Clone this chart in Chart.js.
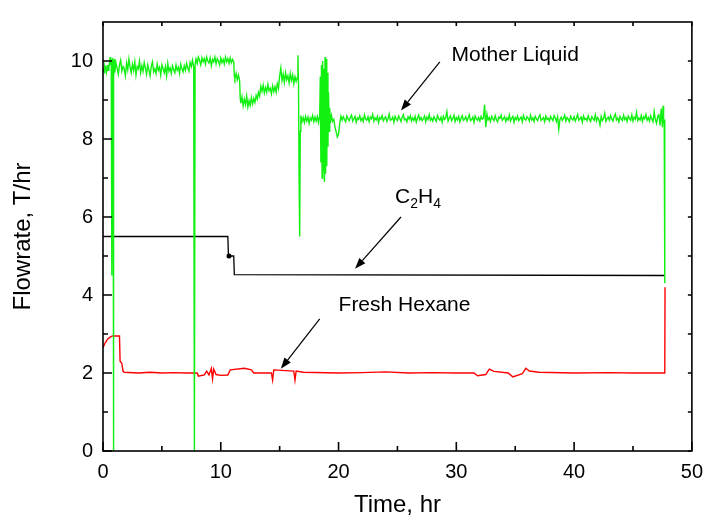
<!DOCTYPE html>
<html>
<head>
<meta charset="utf-8">
<script src="https://cdn.jsdelivr.net/npm/chart.js@4.4.1/dist/chart.umd.min.js"></script>
<style>
  html, body { margin: 0; padding: 0; background: #fff; }
  #wrap { width: 712px; height: 528px; }
</style>
</head>
<body>
<div id="wrap"><canvas id="flow" width="712" height="528"></canvas></div>
<script>
// ─── DATA ─────────────────────────────────────────────────
// [time (hr), flowrate (T/hr)]
const motherLiquid = [
    [0.00, 9.75], [0.05, 9.82], [0.10, 9.70], [0.15, 9.85], [0.20, 9.78], [0.25, 9.88], [0.30, 9.72],
    [0.35, 9.80], [0.40, 9.90], [0.45, 9.76], [0.50, 9.84], [0.55, 9.95], [0.60, 10.10], [0.65, 9.90],
    [0.70, 10.05], [0.74, 9.60], [0.76, 4.50], [0.78, 9.50], [0.82, 10.08], [0.86, 9.70], [0.88, 0.00],
    [0.90, 0.00], [0.92, 9.60], [0.96, 10.05],
    [1.0, 9.70], [1.1, 9.95], [1.2, 9.82], [1.3, 9.66], [1.4, 9.90], [1.5, 10.02], [1.6, 9.74], [1.7, 9.86], [1.8, 9.80], [1.9, 9.62],
    [2.0, 9.95], [2.1, 9.78], [2.2, 10.05], [2.3, 9.84], [2.4, 9.70], [2.5, 9.92], [2.6, 9.76], [2.7, 9.98], [2.8, 9.64], [2.9, 9.86],
    [3.0, 9.80], [3.1, 10.00], [3.2, 9.70], [3.3, 9.88], [3.4, 9.74], [3.5, 9.96], [3.6, 9.82], [3.7, 9.66], [3.8, 9.90], [3.9, 9.78],
    [4.0, 9.62], [4.1, 9.86], [4.2, 9.98], [4.3, 9.72], [4.4, 9.80], [4.5, 9.68], [4.6, 9.92], [4.7, 9.76], [4.8, 9.84], [4.9, 9.64],
    [5.0, 9.90], [5.1, 9.80], [5.2, 9.70], [5.3, 9.86], [5.4, 9.62], [5.5, 9.94], [5.6, 9.74], [5.7, 9.82], [5.8, 9.68], [5.9, 9.88],
    [6.0, 9.78], [6.1, 9.70], [6.2, 9.90], [6.3, 9.76], [6.4, 9.84], [6.5, 9.68], [6.6, 9.92], [6.7, 9.80], [6.8, 9.72], [6.9, 9.88],
    [7.0, 9.76], [7.1, 9.94], [7.2, 9.82], [7.3, 9.74], [7.4, 9.96], [7.5, 9.86], [7.6, 10.02],
    [7.70, 9.85], [7.76, 0.00], [7.78, 0.00], [7.82, 9.90],
    [7.9, 10.05], [8.0, 9.94], [8.1, 10.10], [8.2, 10.02], [8.3, 9.90], [8.4, 10.08], [8.5, 9.98], [8.6, 10.06], [8.7, 9.92], [8.8, 10.10],
    [8.9, 10.00], [9.0, 9.95], [9.1, 10.08], [9.2, 9.88], [9.3, 10.04], [9.4, 9.98], [9.5, 10.10], [9.6, 9.93], [9.7, 10.06], [9.8, 10.00],
    [9.9, 9.90], [10.0, 10.08], [10.1, 9.96], [10.2, 10.04], [10.3, 9.92], [10.4, 10.10], [10.5, 9.98], [10.6, 10.06], [10.7, 9.94],
    [10.8, 10.08], [10.9, 9.96], [11.0, 10.04], [11.1, 9.98],
    [11.15, 9.62], [11.2, 9.55], [11.3, 9.68], [11.4, 9.52], [11.5, 9.64], [11.6, 9.50], [11.65, 9.05], [11.7, 8.92], [11.8, 9.08],
    [11.9, 8.85], [12.0, 9.02], [12.1, 8.88], [12.2, 9.10], [12.3, 8.82], [12.4, 8.98], [12.5, 8.86], [12.6, 9.06], [12.7, 8.90],
    [12.8, 9.04], [12.9, 8.94], [13.0, 9.12], [13.1, 9.02], [13.2, 9.20], [13.3, 9.10], [13.4, 9.35], [13.5, 9.22], [13.6, 9.38],
    [13.7, 9.18], [13.8, 9.32], [13.9, 9.20], [14.0, 9.40], [14.1, 9.24], [14.2, 9.30], [14.3, 9.16], [14.4, 9.36], [14.5, 9.22],
    [14.6, 9.34], [14.7, 9.20], [14.8, 9.42], [14.9, 9.30], [15.0, 9.62], [15.1, 9.82], [15.2, 9.50], [15.3, 9.66], [15.4, 9.45],
    [15.5, 9.70], [15.6, 9.52], [15.7, 9.62], [15.8, 9.44], [15.9, 9.68], [16.0, 9.50], [16.1, 9.64], [16.2, 9.42], [16.3, 9.60],
    [16.4, 9.48], [16.5, 9.58], [16.55, 10.15], [16.6, 9.40], [16.65, 7.00], [16.7, 5.50], [16.75, 8.20],
    [16.8, 8.60], [16.9, 8.45], [17.0, 8.55], [17.1, 8.42], [17.2, 8.58], [17.3, 8.46], [17.4, 8.56],
    [17.5, 8.40], [17.6, 8.54], [17.7, 8.48], [17.8, 8.60], [17.9, 8.44], [18.0, 8.56], [18.1, 8.46],
    [18.2, 8.58], [18.3, 8.42], [18.4, 8.60], [18.45, 9.60], [18.5, 7.40], [18.55, 9.90], [18.6, 7.00],
    [18.65, 10.00], [18.7, 7.20], [18.75, 9.80], [18.8, 6.90], [18.85, 10.10], [18.9, 7.10], [18.95, 10.05],
    [19.0, 7.30], [19.05, 9.70], [19.1, 7.80], [19.15, 9.20], [19.2, 8.20], [19.25, 8.80], [19.3, 8.40],
    [19.4, 8.60], [19.5, 8.45], [19.6, 8.50], [19.7, 8.30], [19.8, 8.18], [19.9, 8.05], [20.0, 8.12],
    [20.1, 8.40], [20.2, 8.58],
    [20.3, 8.48], [20.4, 8.57], [20.5, 8.50], [20.6, 8.44], [20.7, 8.59], [20.8, 8.52], [20.9, 8.47],
    [21.0, 8.55], [21.1, 8.61], [21.2, 8.46], [21.3, 8.52], [21.4, 8.58], [21.5, 8.43], [21.6, 8.54], [21.7, 8.50], [21.8, 8.60], [21.9, 8.47],
    [22.0, 8.53], [22.1, 8.45], [22.2, 8.62], [22.3, 8.51], [22.4, 8.48], [22.5, 8.57], [22.6, 8.44], [22.7, 8.56], [22.8, 8.52], [22.9, 8.63],
    [23.0, 8.46], [23.1, 8.54], [23.2, 8.49], [23.3, 8.58], [23.4, 8.42], [23.5, 8.55], [23.6, 8.51], [23.7, 8.60], [23.8, 8.47], [23.9, 8.53],
    [24.0, 8.57], [24.1, 8.45], [24.2, 8.52], [24.3, 8.64], [24.4, 8.48], [24.5, 8.50], [24.6, 8.56], [24.7, 8.43], [24.8, 8.58], [24.9, 8.51],
    [25.0, 8.47], [25.1, 8.59], [25.2, 8.53], [25.3, 8.45], [25.4, 8.55], [25.5, 8.62], [25.6, 8.49], [25.7, 8.52], [25.8, 8.44], [25.9, 8.57],
    [26.0, 8.51], [26.1, 8.60], [26.2, 8.46], [26.3, 8.54], [26.4, 8.48], [26.5, 8.58], [26.6, 8.43], [26.7, 8.53], [26.8, 8.61], [26.9, 8.49],
    [27.0, 8.55], [27.1, 8.47], [27.2, 8.52], [27.3, 8.59], [27.4, 8.44], [27.5, 8.56], [27.6, 8.50], [27.7, 8.63], [27.8, 8.48], [27.9, 8.53],
    [28.0, 8.46], [28.1, 8.57], [28.2, 8.51], [28.3, 8.45], [28.4, 8.60], [28.5, 8.52], [28.6, 8.48], [28.7, 8.56], [28.8, 8.43], [28.9, 8.58],
    [29.0, 8.50], [29.1, 8.54], [29.2, 8.70], [29.3, 8.46], [29.4, 8.53], [29.5, 8.59], [29.6, 8.47], [29.7, 8.52], [29.8, 8.61], [29.9, 8.45],
    [30.0, 8.55], [30.1, 8.49], [30.2, 8.58], [30.3, 8.44], [30.4, 8.53], [30.5, 8.60], [30.6, 8.48], [30.7, 8.51], [30.8, 8.57], [30.9, 8.46],
    [31.0, 8.54], [31.1, 8.62], [31.2, 8.47], [31.3, 8.50], [31.4, 8.56], [31.5, 8.43], [31.6, 8.59], [31.7, 8.52], [31.8, 8.48], [31.9, 8.55],
    [32.0, 8.46], [32.1, 8.58], [32.2, 8.51], [32.3, 8.53], [32.4, 8.88], [32.5, 8.30], [32.6, 8.64], [32.7, 8.49], [32.8, 8.55], [32.9, 8.45],
    [33.0, 8.58], [33.1, 8.52], [33.2, 8.47], [33.3, 8.60], [33.4, 8.50], [33.5, 8.44], [33.6, 8.56], [33.7, 8.53], [33.8, 8.61], [33.9, 8.48],
    [34.0, 8.52], [34.1, 8.57], [34.2, 8.45], [34.3, 8.54], [34.4, 8.49], [34.5, 8.62], [34.6, 8.46], [34.7, 8.53], [34.8, 8.58], [34.9, 8.43],
    [35.0, 8.55], [35.1, 8.50], [35.2, 8.59], [35.3, 8.47], [35.4, 8.52], [35.5, 8.56], [35.6, 8.44], [35.7, 8.60], [35.8, 8.51], [35.9, 8.48],
    [36.0, 8.57], [36.1, 8.53], [36.2, 8.46], [36.3, 8.61], [36.4, 8.49], [36.5, 8.54], [36.6, 8.45], [36.7, 8.58], [36.8, 8.52], [36.9, 8.47],
    [37.0, 8.56], [37.1, 8.62], [37.2, 8.48], [37.3, 8.51], [37.4, 8.55], [37.5, 8.44], [37.6, 8.59], [37.7, 8.50], [37.8, 8.53], [37.9, 8.46],
    [38.0, 8.58], [38.1, 8.52], [38.2, 8.47], [38.3, 8.60], [38.4, 8.54], [38.5, 8.45], [38.6, 8.57], [38.7, 8.25], [38.8, 8.50], [38.9, 8.56],
    [39.0, 8.48], [39.1, 8.53], [39.2, 8.61], [39.3, 8.46], [39.4, 8.55], [39.5, 8.51], [39.6, 8.44], [39.7, 8.58], [39.8, 8.52], [39.9, 8.49],
    [40.0, 8.57], [40.1, 8.46], [40.2, 8.54], [40.3, 8.63], [40.4, 8.48], [40.5, 8.52], [40.6, 8.56], [40.7, 8.43], [40.8, 8.59], [40.9, 8.50],
    [41.0, 8.53], [41.1, 8.47], [41.2, 8.60], [41.3, 8.51], [41.4, 8.45], [41.5, 8.57], [41.6, 8.52], [41.7, 8.48], [41.8, 8.62], [41.9, 8.46],
    [42.0, 8.55], [42.1, 8.50], [42.2, 8.36], [42.3, 8.58], [42.4, 8.47], [42.5, 8.53], [42.6, 8.66], [42.7, 8.45], [42.8, 8.52], [42.9, 8.56],
    [43.0, 8.48], [43.1, 8.60], [43.2, 8.51], [43.3, 8.46], [43.4, 8.57], [43.5, 8.64], [43.6, 8.49], [43.7, 8.54], [43.8, 8.44], [43.9, 8.58],
    [44.0, 8.52], [44.1, 8.47], [44.2, 8.61], [44.3, 8.50], [44.4, 8.55], [44.5, 8.45], [44.6, 8.59], [44.7, 8.53], [44.8, 8.48], [44.9, 8.62],
    [45.0, 8.46], [45.1, 8.56], [45.2, 8.51], [45.3, 8.68], [45.4, 8.47], [45.5, 8.54], [45.6, 8.49], [45.7, 8.60], [45.8, 8.45], [45.9, 8.57],
    [46.0, 8.52], [46.1, 8.63], [46.2, 8.48], [46.3, 8.55], [46.4, 8.46], [46.5, 8.60], [46.6, 8.51], [46.7, 8.44], [46.8, 8.70], [46.9, 8.50],
    [47.0, 8.40], [47.1, 8.58], [47.2, 8.62], [47.3, 8.35], [47.4, 8.78], [47.5, 8.30], [47.55, 8.85], [47.6, 8.40], [47.65, 8.50], [47.7, 4.30],
];

const ethylene = [
    [0.0, 5.50], [10.6, 5.50], [10.65, 5.02], [10.7, 5.00], [11.1, 5.00], [11.15, 4.52], [47.7, 4.50],
];

const freshHexane = [
    [0.0, 2.65], [0.2, 2.78], [0.4, 2.87], [0.6, 2.92], [0.8, 2.95], [1.4, 2.95], [1.45, 2.30],
    [1.6, 2.25], [1.7, 2.05], [1.8, 2.02], [3.0, 2.00], [4.0, 2.02], [5.0, 2.00], [6.0, 2.01],
    [7.0, 2.00], [8.0, 2.00], [8.1, 1.92], [8.6, 1.95], [8.8, 2.05], [9.0, 1.95], [9.2, 2.12],
    [9.3, 1.85], [9.4, 2.10], [9.6, 1.96], [10.0, 1.94], [10.6, 1.95], [10.8, 2.08], [12.0, 2.12],
    [12.6, 2.08], [12.8, 2.00], [14.3, 2.00], [14.4, 1.82], [14.5, 2.08], [16.2, 2.05], [16.3, 1.82],
    [16.4, 2.05], [17.0, 2.02], [20.0, 2.00], [22.0, 2.01], [24.0, 2.03], [26.0, 2.00], [28.0, 2.01],
    [30.0, 2.00], [31.5, 2.00], [31.8, 1.93], [32.5, 1.96], [32.8, 2.10], [33.2, 2.04], [34.4, 2.00],
    [34.8, 1.90], [35.6, 1.98], [35.9, 2.12], [36.2, 2.05], [37.0, 2.02], [40.0, 2.00], [43.0, 2.01],
    [45.0, 2.00], [47.7, 2.00], [47.72, 4.20],
];

const xMajorTicks = [0, 10, 20, 30, 40, 50];
const xMinorTicks = [5, 15, 25, 35, 45];
const yMajorTicks = [0, 2, 4, 6, 8, 10];
const yMinorTicks = [1, 3, 5, 7, 9];

// label text, anchor [t, v], arrow from [t, v] to [t, v]
const notes = [
    { text: 'Mother Liquid', at: [29.6, 10.0], from: [28.6, 9.98], to: [25.3, 8.73] },
    { text: 'C2H4', at: [24.8, 6.37], from: [25.3, 6.0], to: [21.4, 4.67] },
    { text: 'Fresh Hexane', at: [20.0, 3.59], from: [18.4, 3.39], to: [15.1, 2.11] },
];

const FONT = 'Liberation Sans, Arial, sans-serif';

// ─── FRAME, INWARD TICKS, ANNOTATIONS ─────────────────────
function arrow(ctx, x1, y1, x2, y2) {
    const ang = Math.atan2(y2 - y1, x2 - x1);
    const len = 11, half = 4;
    const bx = x2 - len * Math.cos(ang), by = y2 - len * Math.sin(ang);
    ctx.beginPath();
    ctx.moveTo(x1, y1);
    ctx.lineTo(bx, by);
    ctx.stroke();
    ctx.beginPath();
    ctx.moveTo(x2, y2);
    ctx.lineTo(bx + half * Math.sin(ang), by - half * Math.cos(ang));
    ctx.lineTo(bx - half * Math.sin(ang), by + half * Math.cos(ang));
    ctx.closePath();
    ctx.fill();
}

const framePlugin = {
    id: 'frame',
    afterDatasetsDraw(chart) {
        const { ctx, chartArea: a, scales: { x, y } } = chart;
        ctx.save();
        ctx.strokeStyle = '#000';
        ctx.fillStyle = '#000';
        ctx.lineWidth = 1.6;
        ctx.strokeRect(a.left, a.top, a.right - a.left, a.bottom - a.top);

        ctx.beginPath();
        const xt = (list, inner) => list.forEach(v => {
            const px = x.getPixelForValue(v);
            ctx.moveTo(px, a.bottom); ctx.lineTo(px, a.bottom - inner);
            ctx.moveTo(px, a.top); ctx.lineTo(px, a.top + 4);
        });
        const yt = (list, inner) => list.forEach(v => {
            const py = y.getPixelForValue(v);
            ctx.moveTo(a.left, py); ctx.lineTo(a.left + inner, py);
            ctx.moveTo(a.right, py); ctx.lineTo(a.right - 4, py);
        });
        xt(xMajorTicks, 9); xt(xMinorTicks, 5);
        yt(yMajorTicks, 9); yt(yMinorTicks, 5);
        ctx.stroke();

        // annotations
        ctx.lineWidth = 1.2;
        ctx.textBaseline = 'alphabetic';
        notes.forEach(n => {
            const tx = x.getPixelForValue(n.at[0]), ty = y.getPixelForValue(n.at[1]);
            if (n.text === 'C2H4') {
                let cx = tx;
                ['C', '2', 'H', '4'].forEach((s, i) => {
                    const sub = i % 2 === 1;
                    ctx.font = (sub ? '14px ' : '21px ') + FONT;
                    ctx.fillText(s, cx, sub ? ty + 5 : ty);
                    cx += ctx.measureText(s).width;
                });
            } else {
                ctx.font = '21px ' + FONT;
                ctx.fillText(n.text, tx, ty);
            }
            arrow(ctx, x.getPixelForValue(n.from[0]), y.getPixelForValue(n.from[1]),
                x.getPixelForValue(n.to[0]), y.getPixelForValue(n.to[1]));
        });
        ctx.restore();
    }
};

// ─── CHART ────────────────────────────────────────────────
const tickFont = { family: FONT, size: 20 };
const titleFont = { family: FONT, size: 24 };

new Chart(document.getElementById('flow'), {
    type: 'line',
    data: {
        datasets: [
            { label: 'Mother Liquid', data: motherLiquid, borderColor: '#11f011', borderWidth: 1.4 },
            { label: 'C2H4', data: ethylene, borderColor: '#000', borderWidth: 1.3,
              pointRadius: ethylene.map((p, i) => i === 3 ? 2.5 : 0), pointBackgroundColor: '#000', pointBorderWidth: 0 },
            { label: 'Fresh Hexane', data: freshHexane, borderColor: '#f00', borderWidth: 1.4 },
        ]
    },
    options: {
        responsive: false,
        animation: false,
        devicePixelRatio: 1,
        layout: { padding: { top: 12, right: 15, left: 0, bottom: 0 } },
        elements: { point: { radius: 0 }, line: { tension: 0 } },
        plugins: { legend: { display: false }, tooltip: { enabled: false } },
        scales: {
            x: {
                type: 'linear', min: 0, max: 50,
                grid: { display: false, drawTicks: false },
                border: { display: false },
                afterBuildTicks: s => { s.ticks = xMajorTicks.map(v => ({ value: v })); },
                afterFit: s => { s.height = 77; },
                ticks: { font: tickFont, color: '#000', padding: 9, maxRotation: 0 },
                title: { display: true, text: 'Time, hr', font: titleFont, color: '#000', padding: { top: 0, bottom: 8 } },
            },
            y: {
                type: 'linear', min: 0, max: 11,
                grid: { display: false, drawTicks: false },
                border: { display: false },
                afterBuildTicks: s => { s.ticks = yMajorTicks.map(v => ({ value: v })); },
                afterFit: s => { s.width = 103; },
                ticks: { font: tickFont, color: '#000', padding: 10 },
                title: { display: true, text: 'Flowrate, T/hr', font: titleFont, color: '#000', padding: { top: 9, bottom: 0 } },
            }
        }
    },
    plugins: [framePlugin]
});
</script>
</body>
</html>
